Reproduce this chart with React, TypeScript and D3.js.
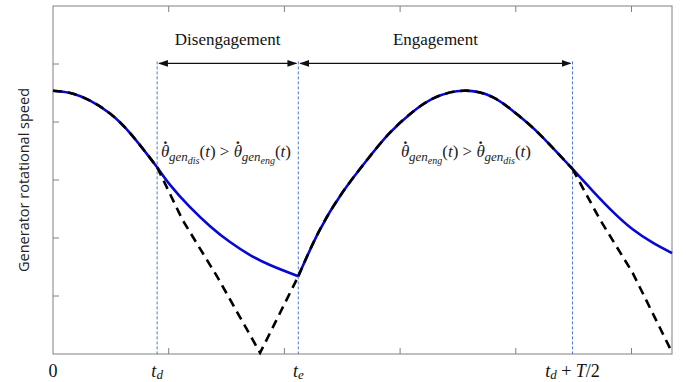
import * as d3 from 'd3';

const W = 686;
const H = 382;

// time (x) and speed (y) in plot units
const T_D = 0.9;
const T_E = 2.12;
const T_HALF = 4.49;

const xTicks = [1, 2, 3, 4, 5];
const yTicks = [1, 2, 3, 4, 5];

// curve shared by both responses before t_d
const sharedStart: [number, number][] = [
  [0, 4.54], [0.15, 4.5], [0.32, 4.37], [0.49, 4.15], [0.67, 3.8], [0.9, 3.22],
];
// blue: disengaged decay between t_d and t_e
const blueDis: [number, number][] = [
  [0.9, 3.22], [1.01, 2.92], [1.18, 2.54], [1.36, 2.2], [1.53, 1.93], [1.7, 1.71], [1.88, 1.53], [2.12, 1.34],
];
// black dashed: engaged speed dropping to zero and back
const blackDis: [number, number][] = [
  [0.9, 3.22], [1.12, 2.31], [1.42, 1.33], [1.79, 0.02], [2.12, 1.34],
];
// curve shared after t_e
const sharedEng: [number, number][] = [
  [2.12, 1.34], [2.3, 2.12], [2.5, 2.78], [2.7, 3.31], [2.9, 3.79], [3.1, 4.16],
  [3.3, 4.42], [3.55, 4.54], [3.8, 4.43], [4.0, 4.15], [4.2, 3.8], [4.49, 3.19],
];
const blueTail: [number, number][] = [
  [4.49, 3.19], [4.67, 2.8], [4.84, 2.45], [5.01, 2.15], [5.19, 1.91], [5.35, 1.74],
];
const blackTail: [number, number][] = [
  [4.49, 3.19], [4.73, 2.31], [5.01, 1.4], [5.35, 0.03],
];

const margin = { top: 6, right: 14, bottom: 28, left: 53 };

const x = d3.scaleLinear().domain([0, 5.35]).range([margin.left, W - margin.right]);
const y = d3.scaleLinear().domain([0, 6]).range([H - margin.bottom, margin.top]);

const smooth = d3
  .line<[number, number]>()
  .x((d) => x(d[0]))
  .y((d) => y(d[1]))
  .curve(d3.curveNatural);
const straight = d3
  .line<[number, number]>()
  .x((d) => x(d[0]))
  .y((d) => y(d[1]));

const AXIS = '#808080';
const BLUE = '#0707d4';
const VLINE = '#4a78d0';
const SERIF = '"Liberation Serif", "Times New Roman", serif';

const DOT_RISE = 13.5;

// theta, then a raised period as the time-derivative dot; the next tspan undoes the rise
function DotTheta({ sub, subsub }: { sub: string; subsub: string }) {
  return (
    <>
      <tspan fontStyle="italic">θ</tspan>
      <tspan dx={-6.2} dy={-DOT_RISE} fontWeight="bold">.</tspan>
      <tspan fontStyle="italic" fontSize={13} dx={1.6} dy={DOT_RISE + 4}>{sub}</tspan>
      <tspan fontStyle="italic" fontSize={10} dy={3}>{subsub}</tspan>
    </>
  );
}

function MathLabel({ cx, cy, first, second }: { cx: number; cy: number; first: string; second: string }) {
  return (
    <text x={cx} y={cy} textAnchor="middle" fontFamily={SERIF} fontSize={17} fill="#222">
      <DotTheta sub="gen" subsub={first} />
      <tspan dy={-7}>(</tspan>
      <tspan fontStyle="italic">t</tspan>
      <tspan>) &gt; </tspan>
      <DotTheta sub="gen" subsub={second} />
      <tspan dy={-7}>(</tspan>
      <tspan fontStyle="italic">t</tspan>
      <tspan>)</tspan>
    </text>
  );
}

export default function App() {
  const x0 = x.range()[0];
  const x1 = x.range()[1];
  const yb = y.range()[0];
  const yt = y.range()[1];
  const arrowY = y(5.01);
  const labelY = 377;

  const dashed = { fill: 'none', stroke: '#000', strokeWidth: 2.6, strokeDasharray: '9,6' };
  const solid = { fill: 'none', stroke: BLUE, strokeWidth: 2.6, strokeLinejoin: 'round' as const };

  return (
    <svg width={W} height={H} style={{ position: 'absolute', left: 0, top: 0, background: '#fff' }}>
      <defs>
        <marker id="ah" viewBox="0 0 10 10" refX="9" refY="5" markerWidth="7" markerHeight="7" orient="auto-start-reverse">
          <path d="M0,1.5 L10,5 L0,8.5 z" fill="#111" />
        </marker>
      </defs>

      {/* frame */}
      <rect x={x0} y={yt} width={x1 - x0} height={yb - yt} fill="none" stroke={AXIS} strokeWidth={1} />
      {xTicks.map((t) => (
        <g key={`xt${t}`}>
          <line x1={x(t)} x2={x(t)} y1={yb} y2={yb - 6} stroke={AXIS} />
          <line x1={x(t)} x2={x(t)} y1={yt} y2={yt + 6} stroke={AXIS} />
        </g>
      ))}
      {yTicks.map((t) => (
        <line key={`yt${t}`} x1={x0} x2={x0 + 6} y1={y(t)} y2={y(t)} stroke={AXIS} />
      ))}

      {/* event markers */}
      {[T_D, T_E, T_HALF].map((t) => (
        <line key={`v${t}`} x1={x(t)} x2={x(t)} y1={arrowY - 2} y2={yb} stroke={VLINE} strokeWidth={1} strokeDasharray="3,2" />
      ))}

      {/* curves */}
      <path d={smooth(sharedStart) ?? ''} {...solid} />
      <path d={smooth(blueDis) ?? ''} {...solid} />
      <path d={smooth(sharedEng) ?? ''} {...solid} />
      <path d={smooth(blueTail) ?? ''} {...solid} />
      <path d={smooth(sharedStart) ?? ''} {...dashed} />
      <path d={straight(blackDis) ?? ''} {...dashed} />
      <path d={smooth(sharedEng) ?? ''} {...dashed} />
      <path d={straight(blackTail) ?? ''} {...dashed} />

      {/* phase arrows */}
      <line x1={x(T_D) + 2} x2={x(T_E) - 2} y1={arrowY} y2={arrowY} stroke="#111" strokeWidth={1.4}
        markerStart="url(#ah)" markerEnd="url(#ah)" />
      <line x1={x(T_E) + 2} x2={x(T_HALF) - 2} y1={arrowY} y2={arrowY} stroke="#111" strokeWidth={1.4}
        markerStart="url(#ah)" markerEnd="url(#ah)" />
      <text x={(x(T_D) + x(T_E)) / 2} y={45} textAnchor="middle" fontFamily={SERIF} fontSize={17} fill="#111">
        Disengagement
      </text>
      <text x={(x(T_E) + x(T_HALF)) / 2} y={45} textAnchor="middle" fontFamily={SERIF} fontSize={17} fill="#111">
        Engagement
      </text>

      <MathLabel cx={226} cy={157} first="dis" second="eng" />
      <MathLabel cx={466} cy={157} first="eng" second="dis" />

      {/* axis labels */}
      <text x={x0} y={labelY} textAnchor="middle" fontFamily={SERIF} fontSize={18} fill="#111">0</text>
      <text x={x(T_D)} y={labelY} textAnchor="middle" fontFamily={SERIF} fontSize={18} fill="#111">
        <tspan fontStyle="italic">t</tspan>
        <tspan fontStyle="italic" fontSize={13} dy={2}>d</tspan>
      </text>
      <text x={x(T_E)} y={labelY} textAnchor="middle" fontFamily={SERIF} fontSize={18} fill="#111">
        <tspan fontStyle="italic">t</tspan>
        <tspan fontStyle="italic" fontSize={13} dy={2}>e</tspan>
      </text>
      <text x={x(T_HALF)} y={labelY} textAnchor="middle" fontFamily={SERIF} fontSize={18} fill="#111">
        <tspan fontStyle="italic">t</tspan>
        <tspan fontStyle="italic" fontSize={13} dy={2}>d</tspan>
        <tspan dy={-2}> + </tspan>
        <tspan fontStyle="italic">T</tspan>
        <tspan>/2</tspan>
      </text>
      <text
        transform={`translate(25,${(yt + yb) / 2}) rotate(-90)`}
        textAnchor="middle"
        dominantBaseline="middle"
        fontFamily='"Open Sans", "Noto Sans", sans-serif'
        fontSize={14.5}
        fill="#222"
      >
        Generator rotational speed
      </text>
    </svg>
  );
}
